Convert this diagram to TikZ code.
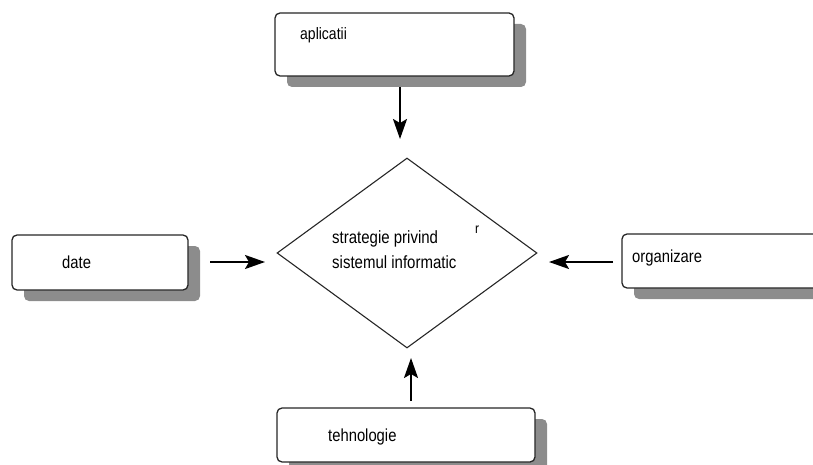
\documentclass[tikz,border=0pt]{standalone}
\usepackage{fontspec}
\usepackage{graphicx}
\setmainfont{Liberation Sans}
\usetikzlibrary{shapes.geometric,shadows,arrows.meta}
% slightly tall lettering used for all labels
\newcommand{\tallword}[1]{\scalebox{1}[1.18]{#1}}
\begin{document}
\begin{tikzpicture}[x=1pt,y=-1pt,
  box/.style={draw=black!85, line width=1.3pt, rounded corners=5pt, fill=white,
    inner sep=0pt, drop shadow={shadow xshift=12pt, shadow yshift=-11pt,
    fill=black!45, opacity=1}},
  lbl/.style={font=\fontsize{14.8}{16}\selectfont, inner sep=0pt, anchor=west},
  flow/.style={line width=2pt, -{Stealth[length=20pt, width=14pt, inset=4pt]}}]
\useasboundingbox (0,0) rectangle (813,465);
\begin{scope}
\clip (0,0) rectangle (813,465);
% input boxes around the central decision
\node[box, minimum width=239pt, minimum height=63pt] (apl) at (394.5,44.5) {};
\node[box, minimum width=176pt, minimum height=55pt] (dat) at (100,262.5) {};
\node[box, minimum width=218pt, minimum height=54pt] (org) at (731,261) {};
\node[box, minimum width=258pt, minimum height=54pt] (teh) at (406,435) {};
\end{scope}
\node[lbl, font=\fontsize{14}{16}\selectfont] (aplt) at (300,35) {\tallword{aplicatii}};
\node[lbl] (datt) at (62,262) {\tallword{date}};
\node[lbl] (orgt) at (632,258) {\tallword{organizare}};
\node[lbl] (teht) at (328,437) {\tallword{tehnologie}};
% central strategy diamond
\node[diamond, draw=black!85, line width=1.1pt, inner sep=0pt,
  minimum width=260pt, minimum height=190pt] (str) at (407,253) {};
\node[lbl, align=left, font=\fontsize{15}{25}\selectfont] (strt) at (332,250)
  {\tallword{strategie privind}\\\tallword{sistemul informatic}};
\node[font=\fontsize{12}{14}\selectfont, inner sep=0pt] (rr) at (477,230) {\tallword{r}};
% arrow end points
\coordinate (a1s) at (400,87);   \coordinate (a1e) at (400,139);
\coordinate (a2s) at (210,262);  \coordinate (a2e) at (265,262);
\coordinate (a3s) at (613,262);  \coordinate (a3e) at (549,262);
\coordinate (a4s) at (411,401);  \coordinate (a4e) at (411,358);
\draw[flow] (a1s) -- (a1e);
\draw[flow] (a2s) -- (a2e);
\draw[flow] (a3s) -- (a3e);
\draw[flow] (a4s) -- (a4e);
\end{tikzpicture}
\end{document}
